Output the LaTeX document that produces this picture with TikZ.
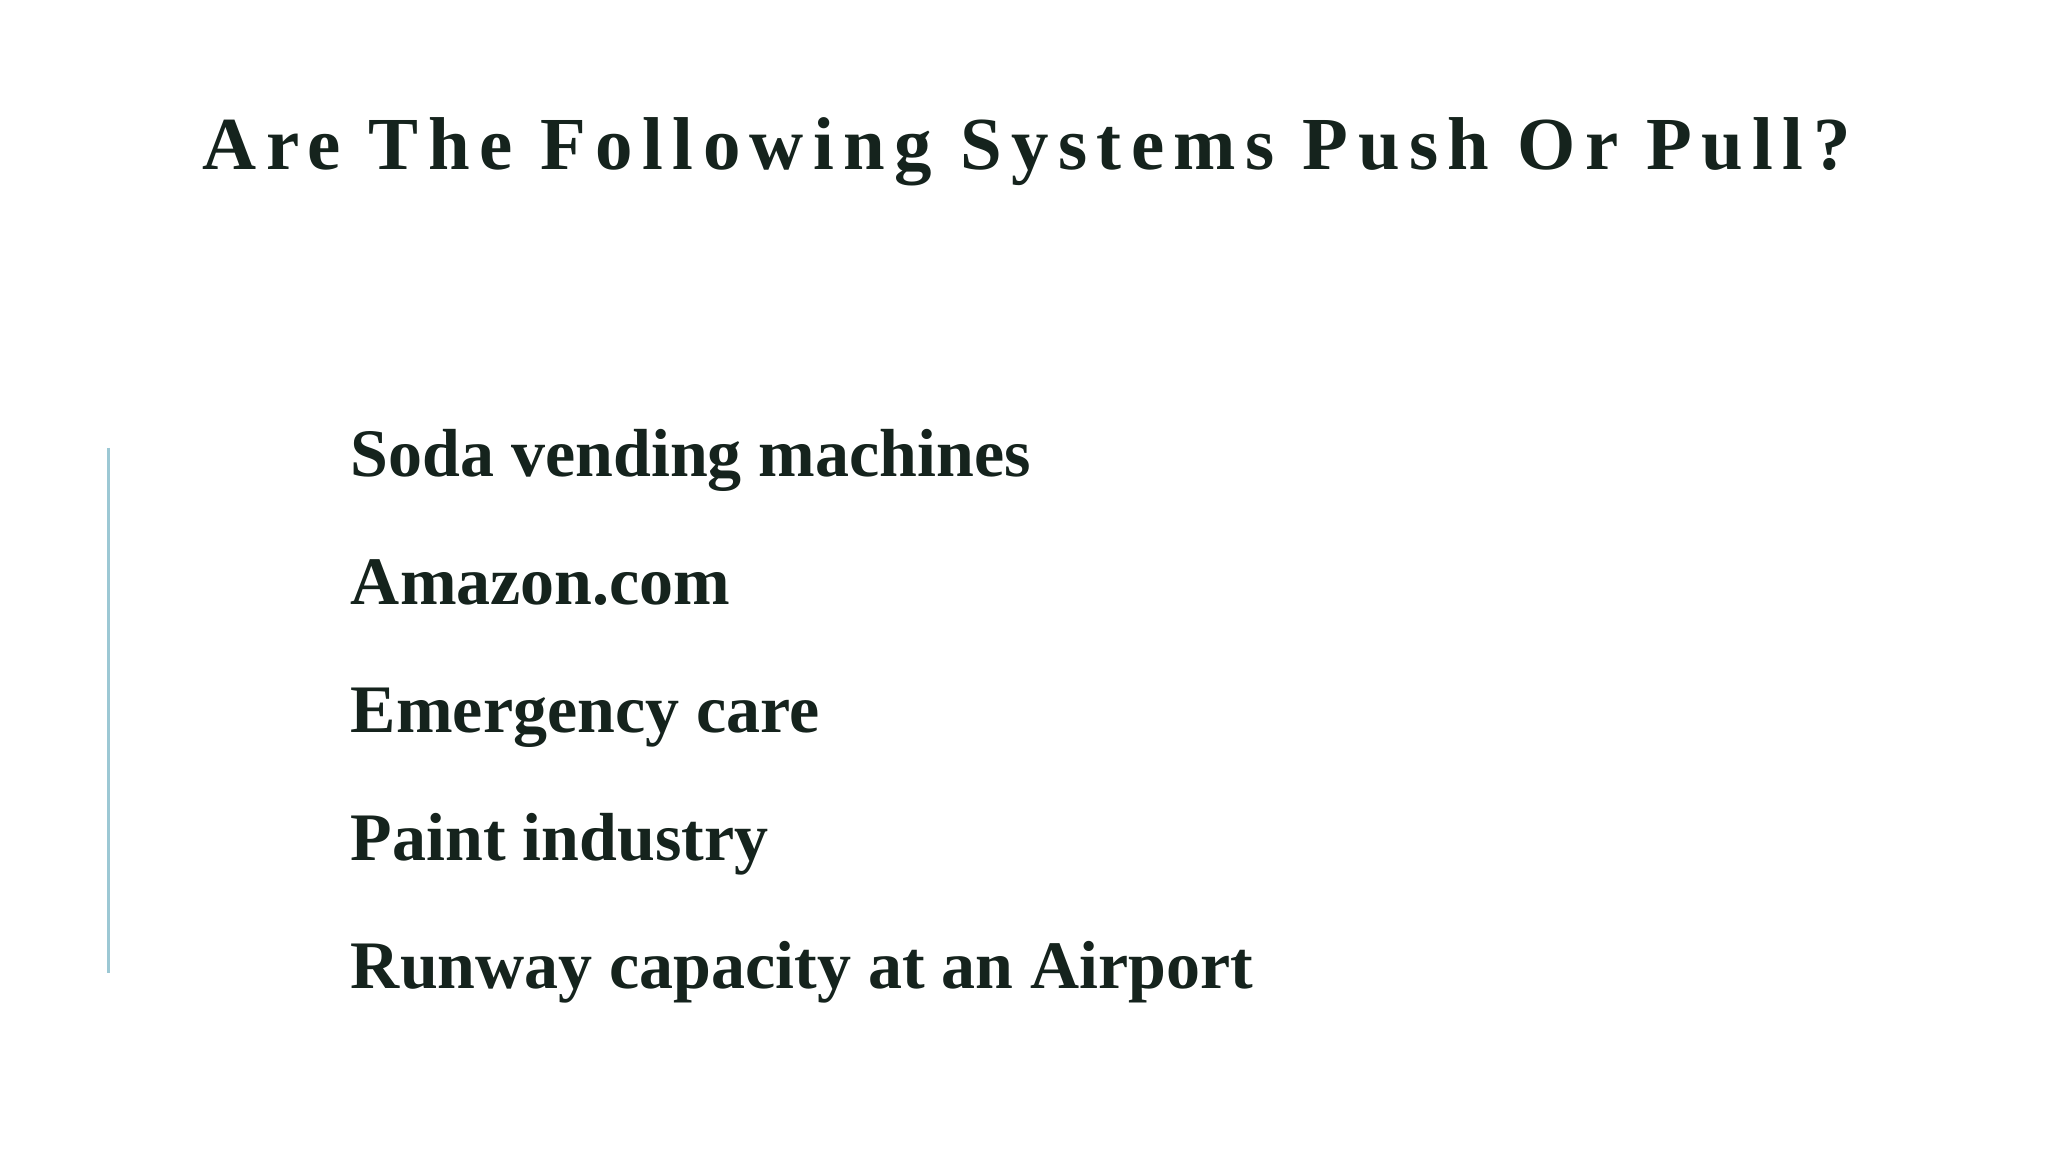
\documentclass[tikz,border=0pt]{standalone}
\usepackage{fontspec}
\setmainfont{Liberation Serif}
\newfontfamily\titlefont[LetterSpace=12.6]{Liberation Serif}
\definecolor{ink}{HTML}{15231D}
\definecolor{rule}{HTML}{9CC8D4}
\begin{document}
\begin{tikzpicture}[x=0.01cm,y=0.01cm,
  item/.style={anchor=base west,inner sep=0,text=ink,font=\fontsize{14.8}{18}\selectfont\bfseries}]
\useasboundingbox (0,0) rectangle (1568,882);
\node[anchor=base,inner sep=0,text=ink,font=\titlefont\fontsize{16.3}{20}\selectfont\bfseries] (title) at (786,882-130) {Are The Following Systems Push Or Pull?};
\coordinate (rt) at (83,882-343);
\coordinate (rb) at (83,882-745);
\draw[rule,line width=0.6pt] (rt) -- (rb);
\node[item] (i1) at (268,882-365) {Soda vending machines};
\node[item] (i2) at (268,882-463) {Amazon.com};
\node[item] (i3) at (268,882-561) {Emergency care};
\node[item] (i4) at (268,882-659) {Paint industry};
\node[item] (i5) at (268,882-757) {Runway capacity at an Airport};
\end{tikzpicture}
\end{document}
